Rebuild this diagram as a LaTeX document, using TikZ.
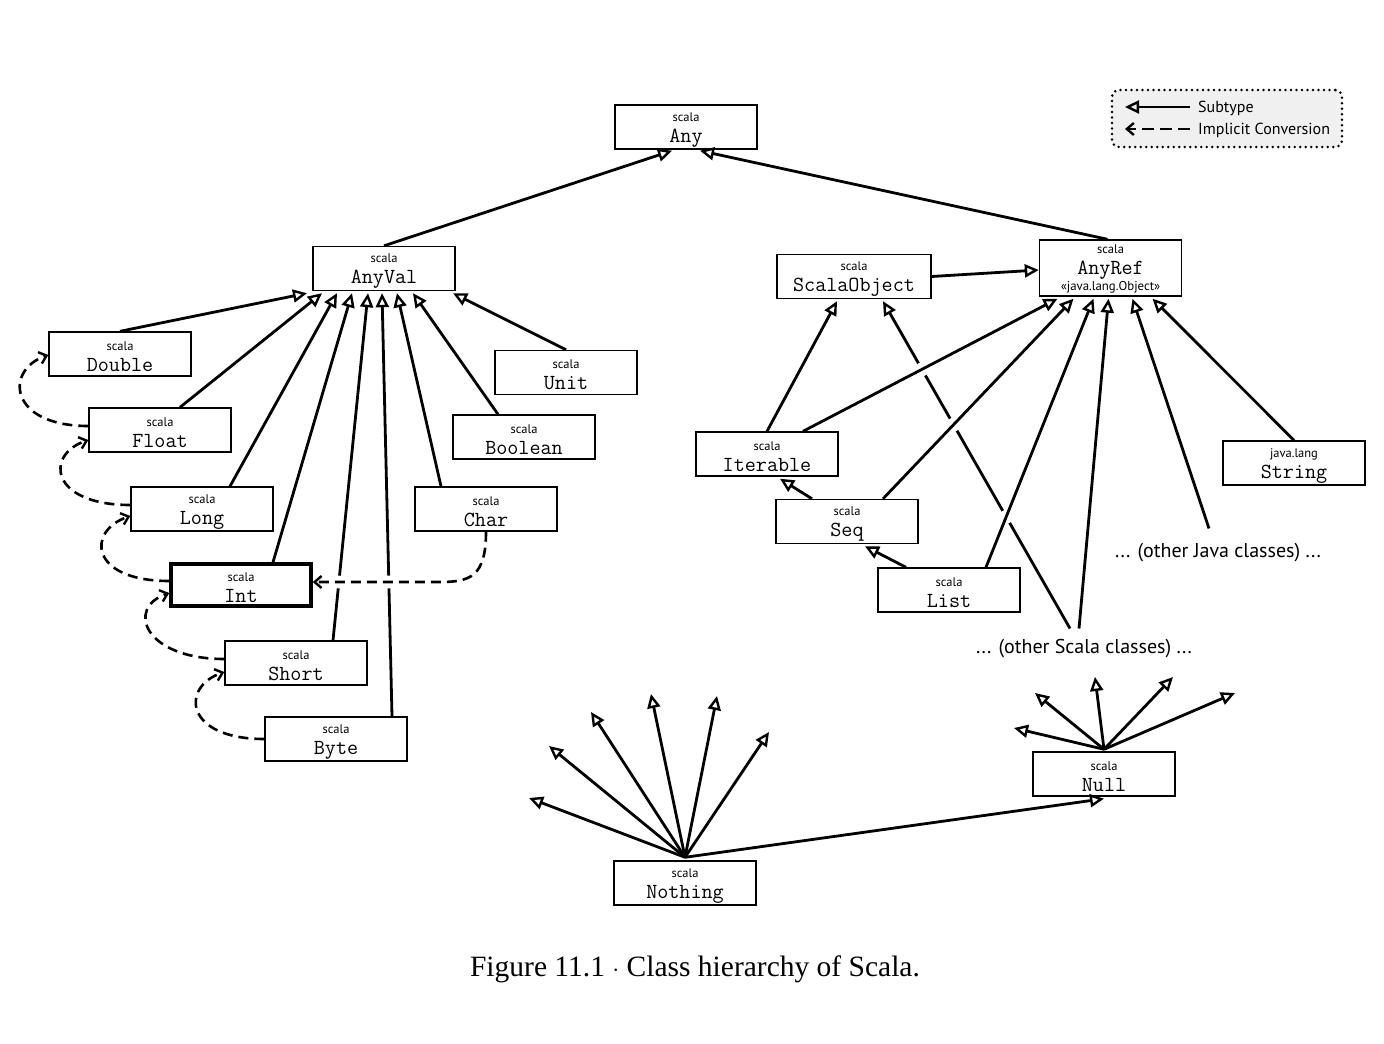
\documentclass[tikz,border=0pt]{standalone}
\usepackage{fontspec}
\setmainfont{Liberation Serif}
\setsansfont{PT Sans}
\usetikzlibrary{arrows.meta,calc,intersections}

\newcommand{\clsbox}[2]{{\sffamily\fontsize{12.5}{21}\selectfont\rule{0pt}{14pt}#1}\\{\ttfamily\fontsize{21.5}{21}\selectfont #2}}

\tikzset{
  cls/.style={draw, line width=1.4pt, minimum width=142pt, minimum height=44pt, inner sep=0pt, align=center, font=\fontsize{12.5}{21}\selectfont},
  sub/.style={line width=2.8pt, -{Triangle[open,length=14pt,width=13pt,line width=2.4pt]}},
  conv/.style={line width=2.6pt, dash pattern=on 10pt off 6pt, -{Straight Barb[length=7pt,width=12pt,line width=2.4pt]}},
  gap/.style={fill=white, draw=none},
  note/.style={font=\sffamily\fontsize{20}{22}\selectfont, inner sep=1pt},
}

\begin{document}
\begin{tikzpicture}[x=1pt,y=-1pt]
\useasboundingbox (0,0) rectangle (1384,1044);

% ---------- nodes ----------
\node[cls] (any)     at (686,127) {\clsbox{scala}{Any}};
\node[cls] (anyval)  at (384,268.5) {\clsbox{scala}{AnyVal}};
\node[cls, minimum height=56pt] (anyref) at (1110.5,268) {{\sffamily\fontsize{12.5}{21}\selectfont\rule{0pt}{11pt}scala}\\{\ttfamily\fontsize{21.5}{21}\selectfont AnyRef}\\[-5pt]{\sffamily\fontsize{12.8}{21}\selectfont «java.lang.Object»}};
\node[cls, minimum width=154pt] (so) at (854,276.5) {\clsbox{scala}{ScalaObject}};
\node[cls] (double)  at (120,354) {\clsbox{scala}{Double}};
\node[cls] (float)   at (160,430) {\clsbox{scala}{Float}};
\node[cls] (long)    at (202,509) {\clsbox{scala}{Long}};
\node[cls, line width=3.5pt, minimum width=140pt, minimum height=42pt] (int) at (241,585) {\clsbox{scala}{Int}};
\node[cls] (short)   at (296,663) {\clsbox{scala}{Short}};
\node[cls] (byte)    at (336,739) {\clsbox{scala}{Byte}};
\node[cls] (unit)    at (566,372.5) {\clsbox{scala}{Unit}};
\node[cls] (boolean) at (524,437) {\clsbox{scala}{Boolean}};
\node[cls] (char)    at (486,509) {\clsbox{scala}{Char}};
\node[cls] (iter)    at (767,454) {\clsbox{scala}{Iterable}};
\node[cls] (seq)     at (847,521.5) {\clsbox{scala}{Seq}};
\node[cls] (list)    at (949,590) {\clsbox{scala}{List}};
\node[cls] (string)  at (1294,463) {\clsbox{java.lang}{String}};
\node[cls] (nothing) at (685,883) {\clsbox{scala}{Nothing}};
\node[cls] (null)    at (1104,774) {\clsbox{scala}{Null}};
\node[note] (oj) at (1218,553) {... (other Java classes) ...};
\node[note] (os) at (1084,649) {... (other Scala classes) ...};

% ---------- top level ----------
\draw[sub] (anyval.north) -- ([xshift=-14pt,yshift=-1pt]any.south);
\draw[sub] ([xshift=-3pt]anyref.north) -- ([xshift=14pt,yshift=-1pt]any.south);

% ---------- AnyVal subtypes ----------
\draw[sub] (double.north) -- ([xshift=-77pt,yshift=-2pt]anyval.south);
\draw[sub] ([xshift=20pt]float.north) -- ([xshift=-62pt,yshift=-2pt]anyval.south);
\draw[sub] ([xshift=28pt]long.north) -- ([xshift=-47pt,yshift=-2pt]anyval.south);
\draw[sub] ([xshift=32pt]int.north) -- ([xshift=-32pt,yshift=-2pt]anyval.south);
\draw[sub, name path=pshort] ([xshift=37pt]short.north) -- ([xshift=-16pt,yshift=-2pt]anyval.south);
\draw[sub, name path=pbyte] ([xshift=56pt]byte.north) -- ([xshift=-2pt,yshift=-2pt]anyval.south);
\draw[sub] ([xshift=-45pt]char.north) -- ([xshift=13pt,yshift=-2pt]anyval.south);
\draw[sub] ([xshift=-26pt]boolean.north) -- ([xshift=29pt,yshift=-2pt]anyval.south);
\draw[sub] (unit.north) -- ([xshift=69pt,yshift=-2pt]anyval.south);

% ---------- implicit conversions ----------
\draw[conv] ([yshift=4pt]float.west) .. controls +(-80,0) and +(-44,15) .. ([yshift=-1pt]double.west);
\draw[conv] ([yshift=4pt]long.west) .. controls +(-80,0) and +(-44,15) .. ([yshift=-10pt]float.west);
\draw[conv] ([yshift=4pt]int.west) .. controls +(-80,0) and +(-44,15) .. ([yshift=-7pt]long.west);
\draw[conv] ([yshift=4pt]short.west) .. controls +(-80,0) and +(-44,15) .. ([yshift=-8pt]int.west);
\draw[conv] (byte.west) .. controls +(-80,0) and +(-44,15) .. ([yshift=-9pt]short.west);

\coordinate (charbend) at (440,582);
\path[name path=pchar] (char.south) .. controls +(0,45) and +(30,0) .. (charbend) -- ([yshift=3pt]int.east);
\fill[gap, name intersections={of=pchar and pshort, by=xs}] (xs) circle (6.5pt);
\fill[gap, name intersections={of=pchar and pbyte, by=xb}] (xb) circle (6.5pt);
\draw[conv] (char.south) .. controls +(0,45) and +(30,0) .. (charbend) -- ([yshift=3pt]int.east);

% ---------- AnyRef side ----------
\draw[sub] (so.east) -- ([yshift=-2pt]anyref.west);
\draw[sub] (iter.north) -- ([xshift=-17pt,yshift=-2pt]so.south);
\draw[sub, name path=posso] ([xshift=-14pt,yshift=10pt]os.north) -- ([xshift=29pt,yshift=-2pt]so.south);
\path[name path=pitar] ([xshift=36pt]iter.north) -- ([xshift=-53pt,yshift=-2pt]anyref.south);
\path[name path=pseqar] ([xshift=36pt]seq.north) -- ([xshift=-37pt,yshift=-2pt]anyref.south);
\path[name path=plistar] ([xshift=37pt]list.north) -- ([xshift=-17pt,yshift=-2pt]anyref.south);
\fill[gap, name intersections={of=posso and pitar, by=g1}] (g1) circle (7pt);
\fill[gap, name intersections={of=posso and pseqar, by=g2}] (g2) circle (7pt);
\fill[gap, name intersections={of=posso and plistar, by=g3}] (g3) circle (7pt);
\draw[sub] ([xshift=36pt]iter.north) -- ([xshift=-53pt,yshift=-2pt]anyref.south);
\draw[sub] ([xshift=36pt]seq.north) -- ([xshift=-37pt,yshift=-2pt]anyref.south);
\draw[sub] ([xshift=37pt]list.north) -- ([xshift=-17pt,yshift=-2pt]anyref.south);
\draw[sub] ([xshift=-35pt]seq.north) -- ([xshift=13pt,yshift=-2pt]iter.south);
\draw[sub] ([xshift=-43pt]list.north) -- ([xshift=18pt,yshift=-2pt]seq.south);
\draw[sub] ([xshift=-5pt,yshift=10pt]os.north) -- ([xshift=-2pt,yshift=-2pt]anyref.south);
\draw[sub] ([xshift=-9pt,yshift=14pt]oj.north) -- ([xshift=22pt,yshift=-2pt]anyref.south);
\draw[sub] (string.north) -- ([xshift=42pt,yshift=-2pt]anyref.south);

% ---------- Nothing and Null ----------
\coordinate (n1) at (529,798);
\coordinate (n2) at (549,746);
\coordinate (n3) at (591,712);
\coordinate (n4) at (651,694);
\coordinate (n5) at (717,696);
\coordinate (n6) at (769,732);
\foreach \t in {n1,n2,n3,n4,n5,n6} \draw[sub] ([yshift=3pt]nothing.north) -- (\t);
\draw[sub] ([yshift=3pt]nothing.north) -- ([yshift=-2pt]null.south);

\coordinate (u1) at (1014,728);
\coordinate (u2) at (1035,693);
\coordinate (u3) at (1095,677);
\coordinate (u4) at (1173,677);
\coordinate (u5) at (1235,693);
\foreach \t in {u1,u2,u3,u4,u5} \draw[sub] ([yshift=2pt]null.north) -- (\t);

% ---------- legend ----------
\node[draw, fill=gray!12, rounded corners=7pt, line width=2.8pt, dash pattern=on 0pt off 5.5pt, line cap=round,
      minimum width=230pt, minimum height=57pt, inner sep=0pt] (legend) at (1227,118.5) {};
\coordinate (l1a) at (1190,107);
\coordinate (l1b) at (1125,107);
\coordinate (l2a) at (1190,129);
\coordinate (l2b) at (1125,129);
\draw[sub] (l1a) -- (l1b);
\draw[conv, dash pattern=on 12pt off 6pt] (l2a) -- (l2b);
\node[anchor=west, font=\sffamily\fontsize{16}{16}\selectfont, inner sep=0pt] (lt1) at (1198,108) {Subtype};
\node[anchor=west, font=\sffamily\fontsize{16}{16}\selectfont, inner sep=0pt] (lt2) at (1198,130) {Implicit Conversion};

% ---------- caption ----------
\node[font=\fontsize{29.5}{30}\selectfont] (caption) at (695,969) {Figure 11.1 $\cdot$ Class hierarchy of Scala.};
\end{tikzpicture}
\end{document}
